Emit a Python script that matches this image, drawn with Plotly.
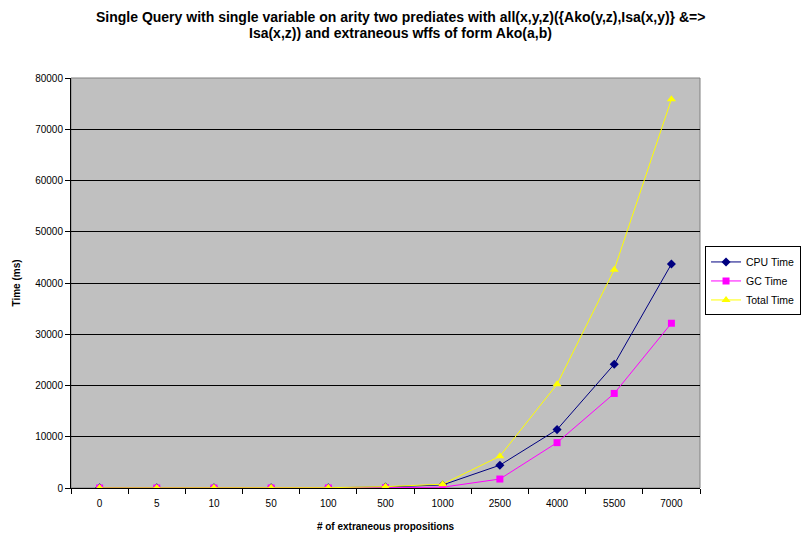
import plotly.graph_objects as go

categories = ["0", "5", "10", "50", "100", "500", "1000", "2500", "4000", "5500", "7000"]
cpu_time = [20, 20, 25, 30, 50, 200, 600, 4450, 11400, 24150, 43700]
gc_time = [0, 0, 0, 0, 10, 60, 150, 1750, 8850, 18450, 32150]
total_time = [20, 20, 25, 30, 60, 260, 750, 6200, 20250, 42600, 75850]
y_ticks = [0, 10000, 20000, 30000, 40000, 50000, 60000, 70000, 80000]
title_lines = [
    "Single Query with single variable on arity two prediates with all(x,y,z)({Ako(y,z),Isa(x,y)} &=>",
    "Isa(x,z)) and extraneous wffs of form Ako(a,b)",
]

font_family = "Liberation Sans, Arial, sans-serif"

fig = go.Figure()
fig.add_trace(go.Scatter(x=categories, y=cpu_time, name="CPU Time", mode="lines+markers",
                         line=dict(color="#000080", width=1),
                         marker=dict(symbol="diamond", size=7, color="#000080")))
fig.add_trace(go.Scatter(x=categories, y=gc_time, name="GC Time", mode="lines+markers",
                         line=dict(color="#FF00FF", width=1),
                         marker=dict(symbol="square", size=7, color="#FF00FF")))
fig.add_trace(go.Scatter(x=categories, y=total_time, name="Total Time", mode="lines+markers",
                         line=dict(color="#FFFF00", width=1),
                         marker=dict(symbol="triangle-up", size=8, color="#FFFF00")))

for i, line in enumerate(title_lines):
    fig.add_annotation(text="<b>" + line + "</b>", xref="paper", yref="paper",
                       x=(400 - 71) / 629, y=(488 - (17 + 16 * i)) / 410,
                       xanchor="center", yanchor="middle", showarrow=False,
                       font=dict(size=14, family=font_family, color="black"))

fig.update_layout(
    width=801, height=535,
    margin=dict(l=71, r=101, t=78, b=47, autoexpand=False),
    paper_bgcolor="white", plot_bgcolor="#C0C0C0",
    font=dict(family=font_family, size=10, color="black"),
    showlegend=True,
    legend=dict(x=1.008, xanchor="left", y=0.505, yanchor="middle",
                bgcolor="white", bordercolor="black", borderwidth=1,
                font=dict(size=10.5), tracegroupgap=0, itemwidth=30),
    xaxis=dict(type="category", categoryorder="array", categoryarray=categories,
               title=dict(text="<b># of extraneous propositions</b>", font=dict(size=10), standoff=14),
               showgrid=False, ticks="outside", ticklen=5, tickcolor="black",
               tickson="boundaries", showline=True, linecolor="black", linewidth=1,
               mirror=False, range=[-0.5, 10.5], tickfont=dict(size=10),
               ticklabelstandoff=6),
    yaxis=dict(range=[0, 80000], tickvals=y_ticks, ticktext=[str(v) for v in y_ticks],
               title=dict(text="<b>Time (ms)</b>", font=dict(size=10), standoff=12),
               showgrid=True, gridcolor="black", gridwidth=1,
               ticks="outside", ticklen=5, tickcolor="black",
               showline=True, linecolor="black", linewidth=1,
               zeroline=False, tickfont=dict(size=10)),
)
fig.add_shape(type="rect", xref="paper", yref="paper", x0=0, y0=0, x1=1, y1=1,
              line=dict(color="#808080", width=1), layer="below")

fig.write_html("out.html")
